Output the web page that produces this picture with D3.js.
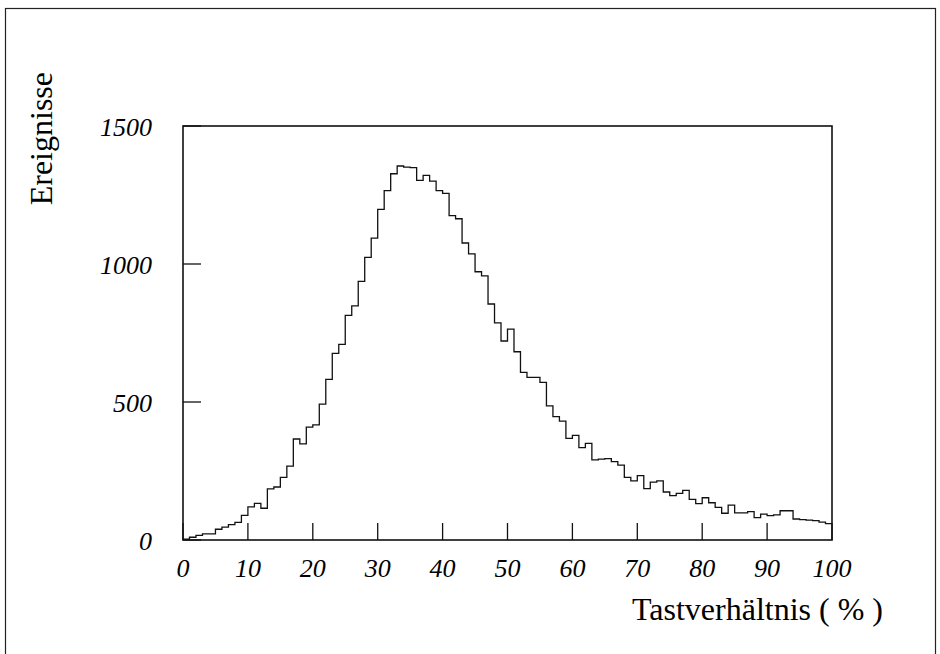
<!DOCTYPE html>
<html lang="de">
<head>
<meta charset="utf-8">
<title>Tastverhältnis</title>
<script src="https://d3js.org/d3.v7.min.js"></script>
<style>
  body { margin: 0; background: #fff; }
  svg { display: block; }
  .tick-label { font-family: "Liberation Serif", "DejaVu Serif", serif; font-style: italic; font-size: 26px; }
  .axis-title { font-family: "Liberation Serif", "DejaVu Serif", serif; font-size: 32px; }
</style>
</head>
<body>
<div class="chart"></div>
<script>
// histogram counts, one bin per 1 % from 0 to 100
var counts = [
  3, 10, 17, 22, 22, 39, 47, 56, 64, 89,
  120, 133, 115, 185, 192, 227, 268, 366, 348, 409,
  417, 492, 582, 676, 709, 814, 848, 937, 1024, 1094,
  1198, 1266, 1327, 1355, 1351, 1349, 1303, 1321, 1300, 1266,
  1256, 1175, 1164, 1076, 1037, 972, 957, 855, 787, 721,
  764, 682, 607, 589, 589, 571, 486, 447, 431, 368,
  379, 335, 350, 290, 293, 295, 284, 271, 227, 214,
  233, 186, 210, 214, 174, 161, 169, 180, 147, 132,
  153, 135, 118, 97, 126, 98, 98, 103, 81, 94,
  88, 91, 106, 106, 76, 74, 72, 70, 65, 59
];
var xTicks = [0, 10, 20, 30, 40, 50, 60, 70, 80, 90, 100];
var yTicks = [0, 500, 1000, 1500];
var xTitle = "Tastverhältnis ( % )";
var yTitle = "Ereignisse";

var width = 940, height = 654;
var plot = {left: 183, right: 832, top: 126, bottom: 540};

var svg = d3.select(".chart").append("svg")
    .attr("width", width)
    .attr("height", height);

// outer page frame
svg.append("rect")
    .attr("x", 5.5).attr("y", 8.5)
    .attr("width", 930).attr("height", 660)
    .attr("fill", "none")
    .attr("stroke", "#222")
    .attr("stroke-width", 1.2);

var x = d3.scaleLinear().domain([0, 100]).range([plot.left, plot.right]);
var y = d3.scaleLinear().domain([0, 1500]).range([plot.bottom, plot.top]);

// histogram as a step line
var pts = counts.map(function(c, i) { return [i, c]; });
pts.push([100, counts[counts.length - 1]]);

var line = d3.line()
    .x(function(d) { return x(d[0]); })
    .y(function(d) { return y(d[1]); })
    .curve(d3.curveStepAfter);

svg.append("path")
    .datum(pts)
    .attr("d", line)
    .attr("fill", "none")
    .attr("stroke", "#111")
    .attr("stroke-width", 1.3);

// plot frame
svg.append("rect")
    .attr("x", x(0)).attr("y", y(1500))
    .attr("width", x(100) - x(0))
    .attr("height", y(0) - y(1500))
    .attr("fill", "none")
    .attr("stroke", "#111")
    .attr("stroke-width", 1.6);

// x ticks (pointing inward) and labels
var xAxis = svg.append("g").attr("class", "xAxis");
xAxis.selectAll("line")
    .data(xTicks)
    .enter().append("line")
    .attr("x1", function(d) { return x(d); })
    .attr("x2", function(d) { return x(d); })
    .attr("y1", y(0))
    .attr("y2", y(0) - 17)
    .attr("stroke", "#111")
    .attr("stroke-width", 1.3);
xAxis.selectAll("text")
    .data(xTicks)
    .enter().append("text")
    .attr("class", "tick-label")
    .attr("x", function(d) { return x(d); })
    .attr("y", 577)
    .attr("text-anchor", "middle")
    .text(function(d) { return d; });

// y ticks and labels
var yAxis = svg.append("g").attr("class", "yAxis");
yAxis.selectAll("line")
    .data(yTicks)
    .enter().append("line")
    .attr("x1", x(0))
    .attr("x2", x(0) + 18)
    .attr("y1", function(d) { return y(d); })
    .attr("y2", function(d) { return y(d); })
    .attr("stroke", "#111")
    .attr("stroke-width", 1.3);
yAxis.selectAll("text")
    .data(yTicks)
    .enter().append("text")
    .attr("class", "tick-label")
    .attr("x", 152)
    .attr("y", function(d) { return y(d) + 10; })
    .attr("text-anchor", "end")
    .text(function(d) { return d; });

// axis titles
svg.append("text")
    .attr("class", "axis-title")
    .attr("x", 883)
    .attr("y", 620)
    .attr("text-anchor", "end")
    .text(xTitle);

svg.append("text")
    .attr("class", "axis-title")
    .attr("transform", "translate(52,72) rotate(-90)")
    .attr("text-anchor", "end")
    .text(yTitle);
</script>
</body>
</html>
